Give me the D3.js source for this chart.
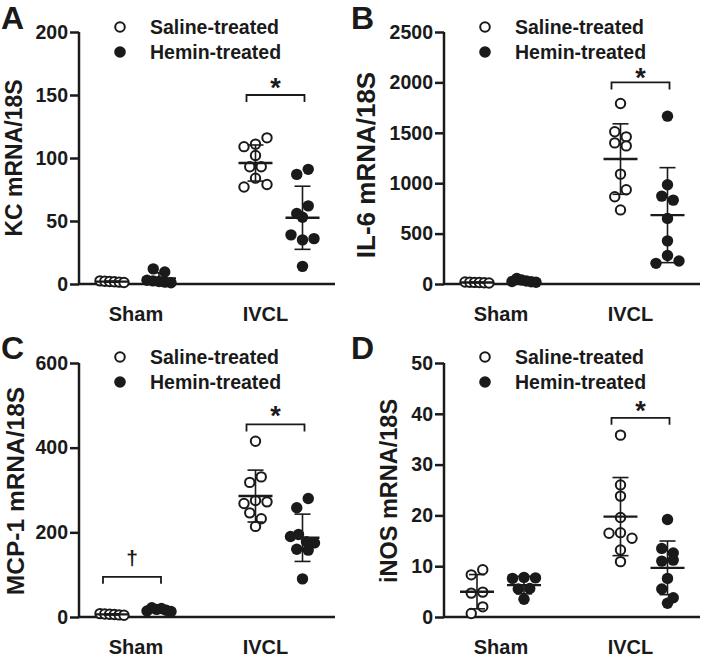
<!DOCTYPE html>
<html><head><meta charset="utf-8">
<script src="https://cdn.jsdelivr.net/npm/d3@7"></script>
<style>
body{margin:0;background:#fff}
svg{display:block}
text{font-family:"Liberation Sans",Arial,Helvetica,sans-serif;font-weight:bold;fill:#1a1a1a}
</style>
</head><body>
<svg id="chart" width="701" height="660"></svg>
<script>
// ---------- data ----------
const categories = ["Sham", "IVCL"];
const seriesNames = ["Saline-treated", "Hemin-treated"];

// A: KC mRNA/18S
const kcShamSaline = [2.5, 2.2, 2.0, 1.8, 1.5, 1.2];
const kcShamHemin  = [12, 9.5, 3, 2.5, 2, 1.5, 1];
const kcIvclSaline = [109, 111, 116, 102, 93, 93, 77, 84, 79];
const kcIvclHemin  = [87, 91, 56, 62, 53, 39, 35, 36, 14];
const kcTicks = [0, 50, 100, 150, 200];

// B: IL-6 mRNA/18S
const il6ShamSaline = [20, 18, 16, 15, 13, 10];
const il6ShamHemin  = [25, 55, 40, 30, 22, 18];
const il6IvclSaline = [1790, 1510, 1460, 1400, 1370, 1090, 865, 935, 735];
const il6IvclHemin  = [1665, 985, 872, 832, 651, 428, 205, 282, 228];
const il6Ticks = [0, 500, 1000, 1500, 2000, 2500];

// C: MCP-1 mRNA/18S
const mcpShamSaline = [8, 7, 6.5, 6, 5, 4];
const mcpShamHemin  = [14, 22, 18, 20, 16, 13];
const mcpIvclSaline = [415, 318, 331, 268, 275, 272, 246, 232, 214];
const mcpIvclHemin  = [258, 280, 190, 195, 178, 175, 160, 158, 90];
const mcpTicks = [0, 200, 400, 600];

// D: iNOS mRNA/18S
const inosShamSaline = [8.3, 9.3, 4.7, 4.9, 0.7, 2.0];
const inosShamHemin  = [7.6, 7.8, 7.7, 5.5, 5.6, 3.5];
const inosIvclSaline = [35.8, 26, 23.8, 19.6, 16.5, 16.6, 15.5, 13.2, 10.9];
const inosIvclHemin  = [19.2, 13.5, 12.6, 11.0, 11.2, 7.6, 5.5, 2.7, 3.8];
const inosTicks = [0, 10, 20, 30, 40, 50];

// ---------- drawing ----------
const svg = d3.select("#chart");
const INK = "#1a1a1a";

const panels = [
  {letter:"A", title:"KC mRNA/18S", ticks:kcTicks,
   groups:[[kcShamSaline, kcShamHemin],[kcIvclSaline, kcIvclHemin]],
   brackets:[{cat:1, v:150, mark:"*", gap:13.5}],
   ox:0, oy:0, axisX:79, yTop:32, yBot:284, titleX:14, titleY:158, titleFs:23},
  {letter:"B", title:"IL-6 mRNA/18S", ticks:il6Ticks,
   groups:[[il6ShamSaline, il6ShamHemin],[il6IvclSaline, il6IvclHemin]],
   brackets:[{cat:1, v:2000, mark:"*", gap:10.5}],
   ox:350, oy:0, axisX:444, yTop:32, yBot:284, titleX:366, titleY:165, titleFs:26},
  {letter:"C", title:"MCP-1 mRNA/18S", ticks:mcpTicks,
   groups:[[mcpShamSaline, mcpShamHemin],[mcpIvclSaline, mcpIvclHemin]],
   brackets:[{cat:1, v:455, mark:"*", gap:15},{cat:0, v:95, mark:"\u2020", gap:12}],
   ox:0, oy:330, axisX:79, yTop:363, yBot:617, titleX:15, titleY:491, titleFs:24.5},
  {letter:"D", title:"iNOS mRNA/18S", ticks:inosTicks,
   groups:[[inosShamSaline, inosShamHemin],[inosIvclSaline, inosIvclHemin]],
   brackets:[{cat:1, v:39.2, mark:"*", gap:13.5}],
   ox:350, oy:330, axisX:444, yTop:363, yBot:617, titleX:389, titleY:491, titleFs:23.5}
];

function swarm(values, y, cx){
  // Prism-like row layout: points within one dot height share a row, centred
  const idx = values.map((v,i)=>i).sort((a,b)=>values[b]-values[a]);
  const rows = [];
  idx.forEach(i=>{
    const r = rows[rows.length-1];
    if (r && Math.abs(y(values[i]) - y(values[r[0]])) <= 10) r.push(i);
    else rows.push([i]);
  });
  const out = [];
  rows.forEach(r=>{
    r.sort((a,b)=>a-b);
    const n = r.length;
    const step = n>1 ? Math.min(11.5, 24/(n-1)) : 0;
    r.forEach((i,k)=> out.push({v:values[i], x:cx + (k-(n-1)/2)*step, y:y(values[i])}));
  });
  return out;
}

panels.forEach(p=>{
  const g = svg.append("g");
  const y = d3.scaleLinear().domain([0, d3.max(p.ticks)]).range([p.yBot, p.yTop]);
  const xCat = d3.scalePoint().domain(categories).range([p.axisX+56.5, p.axisX+200]);
  const xSer = d3.scalePoint().domain(seriesNames).range([-23.5, 23.5]);
  const xRight = p.axisX + 256;

  // panel letter
  g.append("text").attr("x", p.ox + 1).attr("y", p.oy + 29)
    .attr("font-size", 32).text(p.letter);

  // y axis
  const yAxis = d3.axisLeft(y).tickValues(p.ticks).tickFormat(d3.format("d")).tickSize(9).tickPadding(2);
  const ya = g.append("g").attr("transform", `translate(${p.axisX},0)`).call(yAxis);
  ya.select(".domain").attr("d", `M0,${p.yBot}V${p.yTop}`).attr("stroke", INK).attr("stroke-width", 2.5);
  ya.selectAll(".tick line").attr("stroke", INK).attr("stroke-width", 2.5);
  ya.selectAll(".tick text").attr("font-size", 19.5)
    .style("font-family", '"Liberation Sans",Arial,sans-serif').style("font-weight","bold").attr("fill", INK);

  // x axis
  const xAxis = d3.axisBottom(xCat).tickSize(0).tickPadding(23);
  const xa = g.append("g").attr("transform", `translate(0,${p.yBot})`).call(xAxis);
  xa.select(".domain").attr("d", `M${p.axisX},0H${xRight}`).attr("stroke", INK).attr("stroke-width", 2.5);
  xa.selectAll(".tick text").attr("font-size", 20)
    .style("font-family", '"Liberation Sans",Arial,sans-serif').style("font-weight","bold").attr("fill", INK)
    .attr("dx", d => d === "IVCL" ? -14 : 0);

  // y title
  g.append("text")
    .attr("transform", `translate(${p.titleX},${p.titleY}) rotate(-90)`)
    .attr("text-anchor", "middle").attr("dominant-baseline", "central")
    .attr("font-size", p.titleFs).text(p.title);

  // points + mean/SD
  p.groups.forEach((pair, ci)=>{
    pair.forEach((vals, si)=>{
      const cx = xCat(categories[ci]) + xSer(seriesNames[si]);
      const pts = swarm(vals, y, cx);
      g.selectAll(null).data(pts).enter().append("circle")
        .attr("cx", d=>d.x).attr("cy", d=>d.y)
        .attr("r", si===0 ? 4.7 : 5.7)
        .attr("fill", si===0 ? "#fff" : INK)
        .attr("stroke", si===0 ? INK : "none")
        .attr("stroke-width", 2);
      const m = d3.mean(vals), sd = d3.deviation(vals);
      const eb = g.append("g").attr("stroke", INK).attr("fill","none");
      eb.append("line").attr("x1", cx).attr("x2", cx).attr("y1", y(m+sd)).attr("y2", y(Math.max(0,m-sd))).attr("stroke-width", 1.6);
      eb.append("line").attr("x1", cx-8).attr("x2", cx+8).attr("y1", y(m+sd)).attr("y2", y(m+sd)).attr("stroke-width", 1.6);
      eb.append("line").attr("x1", cx-8).attr("x2", cx+8).attr("y1", y(Math.max(0,m-sd))).attr("y2", y(Math.max(0,m-sd))).attr("stroke-width", 1.6);
      eb.append("line").attr("x1", cx-17).attr("x2", cx+17).attr("y1", y(m)).attr("y2", y(m)).attr("stroke-width", 2.4);
    });
  });

  // significance brackets
  p.brackets.forEach(b=>{
    const x1 = xCat(categories[b.cat]) + xSer(seriesNames[0]) - 9;
    const x2 = xCat(categories[b.cat]) + xSer(seriesNames[1]) + 2;
    const by = y(b.v);
    g.append("path").attr("d", `M${x1},${by+7}V${by}H${x2}V${by+7}`)
      .attr("fill","none").attr("stroke", INK).attr("stroke-width", 1.8);
    if (b.mark === "*") {
      g.append("text").attr("x", (x1+x2)/2).attr("y", by - b.gap + 0.57*27)
        .attr("text-anchor","middle").attr("font-size", 27).text(b.mark);
    } else {
      g.append("text").attr("x", (x1+x2)/2).attr("y", by - b.gap)
        .attr("text-anchor","middle").attr("font-size", 21).text(b.mark);
    }
  });

  // legend
  seriesNames.forEach((s, si)=>{
    const ly = p.oy + 27 + si*25;
    g.append("circle").attr("cx", p.axisX + 41).attr("cy", ly)
      .attr("r", si===0 ? 4.8 : 5.8)
      .attr("fill", si===0 ? "#fff" : INK)
      .attr("stroke", si===0 ? INK : "none").attr("stroke-width", 2);
    g.append("text").attr("x", p.axisX + 71).attr("y", ly + 7)
      .attr("font-size", 19.5).text(s);
  });
});
</script>
</body></html>
